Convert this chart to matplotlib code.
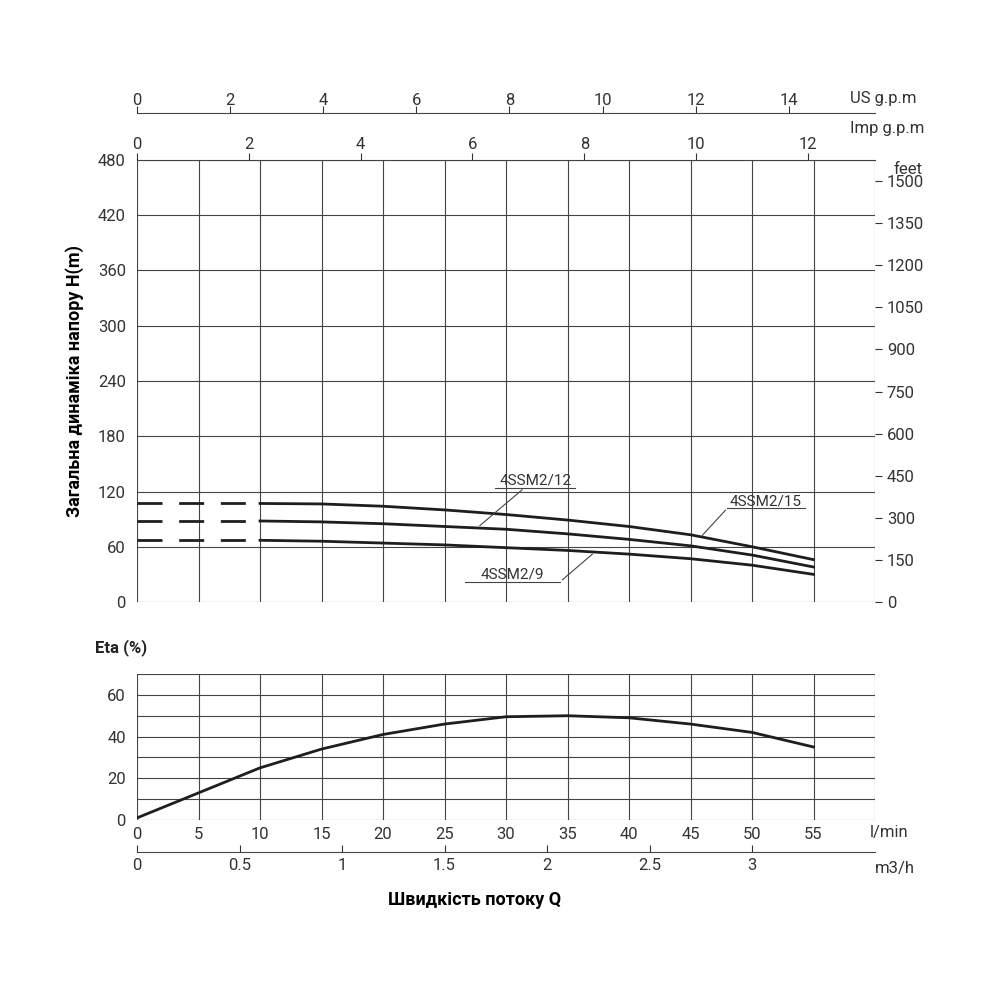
import matplotlib
matplotlib.use('Agg')
import matplotlib.pyplot as plt
import numpy as np

plt.rcParams['font.family'] = ['Roboto', 'DejaVu Sans']

# flow in l/min
q = [10, 15, 20, 25, 30, 35, 40, 45, 50, 55]
h_15 = [107, 106.5, 104, 100, 95, 89, 82, 73, 60, 46]
h_12 = [88, 87, 85, 82, 79, 74, 68, 61, 51, 38]
h_9 = [67, 66, 64, 62, 59, 56, 52, 47, 40, 30]
q_eta = [0, 5, 10, 15, 20, 25, 30, 35, 40, 45, 50, 55]
eta = [1, 13, 25, 34, 41, 46, 49.5, 50, 49, 46, 42, 35]

LC = '#1e1e1e'
GC = '#444444'

fig = plt.figure(figsize=(10, 10), dpi=100)

# ---- head panel
ax = fig.add_axes([0.137, 0.398, 0.738, 0.442])
ax.set_xlim(0, 60); ax.set_ylim(0, 480)
for x in range(0, 61, 5):
    ax.axvline(x, color=GC, lw=0.8)
for y in range(0, 481, 60):
    ax.axhline(y, color=GC, lw=0.8)
for s in ax.spines.values():
    s.set_visible(False)
for h in (h_15, h_12, h_9):
    ax.plot(q, h, color=LC, lw=2)
    ax.plot([0, 10], [h[0], h[0]], color=LC, lw=2, dashes=(9, 6))
ax.set_xticks([])
ax.set_yticks(range(0, 481, 60))
ax.tick_params(axis='y', length=0, labelsize=12, colors='#333', pad=8)
ax.set_ylabel('Загальна динаміка напору H(m)', fontsize=13, fontweight='bold', labelpad=10)

# feet axis
axr = ax.secondary_yaxis('right', functions=(lambda m: m * 3.281, lambda f: f / 3.281))
axr.set_yticks(range(0, 1501, 150))
axr.tick_params(length=5, labelsize=12, colors='#333')
axr.spines['right'].set_visible(False)
ax.text(61.5, 470, 'feet', fontsize=12, color='#333', va='center')

# imp gpm axis
axi = ax.secondary_xaxis('top', functions=(lambda l: l / 4.546, lambda g: g * 4.546))
axi.set_xticks(range(0, 13, 2))
axi.tick_params(length=5, labelsize=12, colors='#333', pad=1)
axi.spines['top'].set_color(GC)
fig.text(0.85, 0.872, 'Imp g.p.m', fontsize=12, color='#333', va='center')

# US gpm axis
axu = fig.add_axes([0.137, 0.887, 0.738, 0.0001])
axu.set_xlim(0, 60 / 3.785)
axu.set_yticks([])
for k in ('left', 'right', 'top'):
    axu.spines[k].set_visible(False)
axu.spines['bottom'].set_color(GC)
axu.set_xticks(range(0, 15, 2))
axu.tick_params(axis='x', direction='in', length=5, labelsize=12, colors='#333',
                labelbottom=False, labeltop=True, top=False, bottom=True)
fig.text(0.85, 0.902, 'US g.p.m', fontsize=12, color='#333', va='center')

# curve labels
def lab(text, tx, ty, x0, x1, ly, px, py):
    ax.text(tx, ty, text, fontsize=11, color='#333', ha='center', va='bottom')
    ax.plot([x0, x1], [ly, ly], color=GC, lw=0.8)
    ax.plot([px, (x0 + x1) / 2 if False else px], [py, py], color=GC, lw=0.8)
lab('4SSM2/12', 32.4, 124, 29.1, 35.6, 124, 0, 0)
ax.annotate('', xy=(27.7, 81), xytext=(31.5, 124),
            arrowprops=dict(arrowstyle='-', color=GC, lw=0.8))
lab('4SSM2/15', 51.1, 101, 48, 54.3, 102, 0, 0)
ax.annotate('', xy=(45.8, 70), xytext=(48, 102),
            arrowprops=dict(arrowstyle='-', color=GC, lw=0.8))
lab('4SSM2/9', 30.5, 22, 26.7, 34.4, 22, 0, 0)
ax.annotate('', xy=(37.2, 54), xytext=(34.4, 22),
            arrowprops=dict(arrowstyle='-', color=GC, lw=0.8))

# ---- efficiency panel
ae = fig.add_axes([0.137, 0.180, 0.738, 0.146])
ae.set_xlim(0, 60); ae.set_ylim(0, 70)
for x in range(0, 61, 5):
    ae.axvline(x, color=GC, lw=0.8)
for y in range(0, 71, 10):
    ae.axhline(y, color=GC, lw=0.8)
for s in ae.spines.values():
    s.set_visible(False)
ae.plot(q_eta, eta, color=LC, lw=2)
ae.set_yticks(range(0, 61, 20))
ae.tick_params(axis='y', length=0, labelsize=12, colors='#333', pad=8)
ae.set_xticks(range(0, 56, 5))
ae.tick_params(axis='x', length=0, labelsize=12, colors='#333', pad=5)
fig.text(0.87, 0.168, 'l/min', fontsize=12, color='#333', va='center')
fig.text(0.095, 0.352, 'Eta (%)', fontsize=12, color='#222', va='center', fontweight='bold')

# m3/h axis
am = fig.add_axes([0.137, 0.148, 0.738, 0.0001])
am.set_xlim(0, 60 * 0.06)
am.set_yticks([])
for k in ('left', 'right', 'top'):
    am.spines[k].set_visible(False)
am.spines['bottom'].set_color(GC)
am.set_xticks([0, 0.5, 1, 1.5, 2, 2.5, 3])
am.set_xticklabels(['0', '0.5', '1', '1.5', '2', '2.5', '3'])
am.tick_params(axis='x', direction='in', length=5, labelsize=12, colors='#333', pad=4)
fig.text(0.875, 0.132, 'm3/h', fontsize=12, color='#333', va='center')
fig.text(0.475, 0.1, 'Швидкість потоку Q', fontsize=13, fontweight='bold', ha='center', va='center')

fig.savefig('out.png', dpi=100)
